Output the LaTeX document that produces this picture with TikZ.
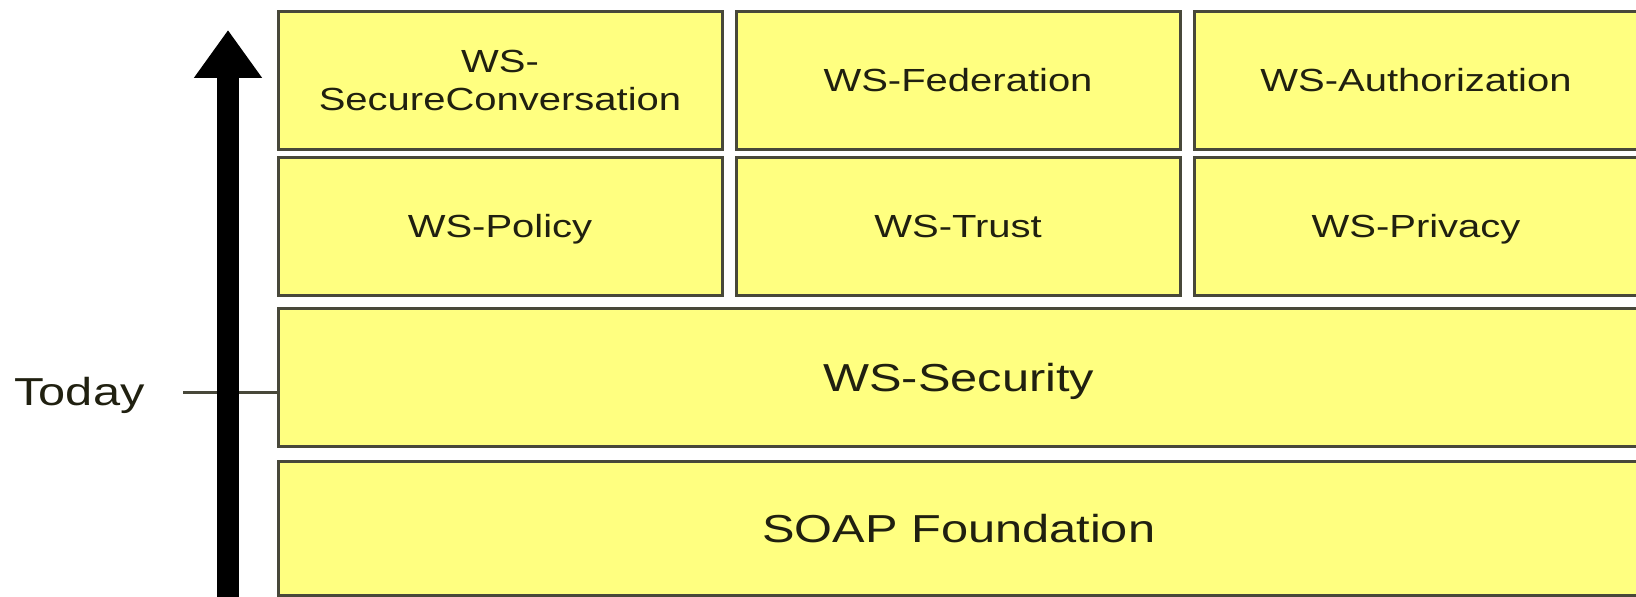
\documentclass[tikz,border=0pt]{standalone}
\usepackage{fontspec}
\setmainfont[FakeStretch=1.25]{Liberation Sans}
\usetikzlibrary{arrows.meta}
\definecolor{wsfill}{RGB}{255,255,128}
\definecolor{wsline}{RGB}{72,72,58}
\definecolor{wstext}{RGB}{32,32,16}

\begin{document}
\begin{tikzpicture}[x=0.5pt,y=-0.5pt,
	spec/.style={draw=wsline,fill=wsfill,line width=1.5pt,inner sep=0pt,align=center,
		text=wstext,minimum width=222pt,minimum height=69pt,
		text height=11.5pt,text depth=0pt,
		font=\fontsize{16}{19}\selectfont},
	secconv/.style={text height=,text depth=},
	layer/.style={spec,minimum width=680pt,text height=14pt,font=\fontsize{19.5}{23}\selectfont},
	tickline/.style={draw=wsline,line width=1.5pt}]
	\useasboundingbox (0,0) rectangle (1636,597);

	\foreach \name/\txt [count=\i] in {secconv/{WS-\\SecureConversation},federation/WS-Federation,authorization/WS-Authorization} {
			\node[spec,\name/.try] (\name) at ({500+458*(\i-1)},80.5) {\txt};
		}
	\foreach \name/\txt [count=\i] in {policy/WS-Policy,trust/WS-Trust,privacy/WS-Privacy} {
			\node[spec] (\name) at ({500+458*(\i-1)},226.5) {\txt};
		}

	\node[layer,minimum height=68.75pt] (security) at (958.75,377.75) {WS-Security};
	\node[layer,minimum height=67pt] (soap) at (958.75,528.5) {SOAP Foundation};

	\node[anchor=base west,inner sep=0pt,text=wstext,font=\fontsize{19.5}{23}\selectfont] (today) at (14,406) {Today};

	\coordinate (tick) at (183,393);
	\draw[tickline] (tick) -- (tick -| security.west);

	\coordinate (arrowfoot) at (228,600);
	\coordinate (arrowtip) at (228,30);
	\draw[line width=11pt,-{Triangle[width=32.5pt,length=24pt]}] (arrowfoot) -- (arrowtip);
\end{tikzpicture}
\end{document}
